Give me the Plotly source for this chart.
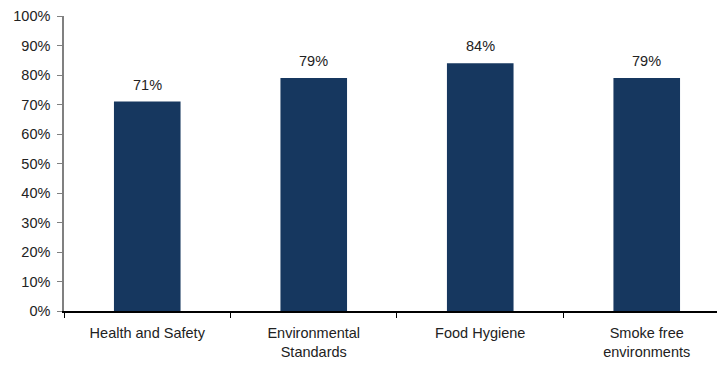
import plotly.graph_objects as go

categories = ["Health and Safety", "Environmental<br>Standards", "Food Hygiene", "Smoke free<br>environments"]
values = [0.71, 0.79, 0.84, 0.79]
labels = ["71%", "79%", "84%", "79%"]

fig = go.Figure()
fig.add_trace(go.Bar(x=categories, y=values, width=0.4, marker=dict(color="#16375F", line=dict(width=0)),
                     hoverinfo="skip"))
for c, v, t in zip(categories, values, labels):
    fig.add_annotation(x=c, y=v, text=t, showarrow=False, yanchor="bottom", yshift=7,
                       font=dict(family="Liberation Sans, Arial", size=14.5, color="#222222"))

fig.update_layout(
    width=717, height=365,
    margin=dict(l=64, r=0, t=16, b=54),
    plot_bgcolor="white", paper_bgcolor="white",
    showlegend=False,
    font=dict(family="Liberation Sans, Arial", size=14.5, color="#222222"),
    xaxis=dict(type="category", range=[-0.5, 3.422], showline=True, linecolor="#000000", linewidth=1.5,
               ticks="outside", tickson="boundaries", ticklen=5, tickcolor="#000000",
               showgrid=False, zeroline=False, tickfont=dict(size=14.5), ticklabelstandoff=8),
    yaxis=dict(range=[0, 1], tickvals=[i / 10 for i in range(11)], tickformat=".0%",
               showline=True, linecolor="#808080", linewidth=1.5, ticks="outside", ticklen=5,
               tickcolor="#808080", showgrid=False, zeroline=False, ticklabelstandoff=4,
               tickfont=dict(size=14.5)),
    bargap=0.6,
)
fig.write_html("out.html")
